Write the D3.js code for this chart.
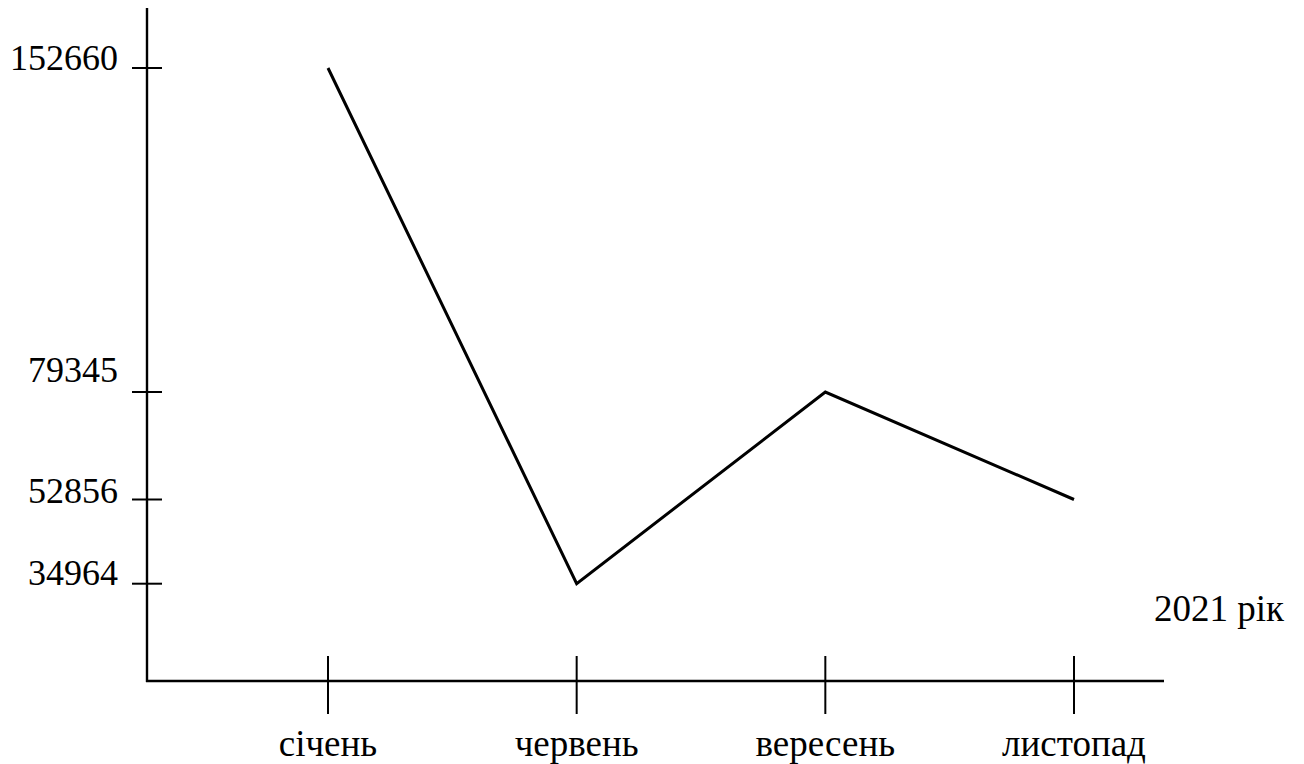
<!DOCTYPE html>
<html>
<head>
<meta charset="utf-8">
<script src="https://cdn.jsdelivr.net/npm/d3@7/dist/d3.min.js"></script>
<style>
  html, body { margin: 0; padding: 0; background: #fff; }
  svg { display: block; }
  text { font-family: "Liberation Serif", "Times New Roman", serif; fill: #000; }
</style>
</head>
<body>
<svg id="chart" width="1304" height="764"></svg>
<script>
// Data
const months = ["січень", "червень", "вересень", "листопад"];
const values = [152660, 34964, 79345, 52856];
const yTickValues = [152660, 79345, 52856, 34964];
const xTitle = "2021 рік";

// Style: baseline offsets for y tick labels (relative to tick)
const yLabelDy = [2, -10, 3, 1];

const svg = d3.select("#chart");

const x = d3.scalePoint().domain(months).range([328, 1074]);
// Hand-spaced value axis as in the original (polylinear)
const y = d3.scaleLinear()
  .domain([34964, 52856, 79345, 152660])
  .range([583.7, 499.5, 392, 68]);

const axisX = 147, axisY = 681;

// Axes lines
svg.append("line")
  .attr("x1", axisX).attr("x2", axisX)
  .attr("y1", 8).attr("y2", axisY + 1)
  .attr("stroke", "#000").attr("stroke-width", 2.4);
svg.append("line")
  .attr("x1", axisX - 1).attr("x2", 1164)
  .attr("y1", axisY).attr("y2", axisY)
  .attr("stroke", "#000").attr("stroke-width", 2.4);

// Y ticks
const yt = svg.append("g");
yt.selectAll("line").data(yTickValues).join("line")
  .attr("x1", 132).attr("x2", 162)
  .attr("y1", d => y(d)).attr("y2", d => y(d))
  .attr("stroke", "#000").attr("stroke-width", 2);
yt.selectAll("text").data(yTickValues).join("text")
  .attr("x", 118)
  .attr("y", (d, i) => y(d) + yLabelDy[i])
  .attr("text-anchor", "end")
  .attr("font-size", 36)
  .text(d => d);

// X ticks
const xt = svg.append("g");
xt.selectAll("line").data(months).join("line")
  .attr("x1", d => x(d)).attr("x2", d => x(d))
  .attr("y1", 656).attr("y2", 714)
  .attr("stroke", "#000").attr("stroke-width", 2);
xt.selectAll("text").data(months).join("text")
  .attr("x", d => x(d))
  .attr("y", 756)
  .attr("text-anchor", "middle")
  .attr("font-size", 37)
  .text(d => d);

// Axis title
svg.append("text")
  .attr("x", 1284).attr("y", 621)
  .attr("text-anchor", "end")
  .attr("font-size", 37)
  .text(xTitle);

// Data line
const line = d3.line()
  .x((d, i) => x(months[i]))
  .y(d => y(d));
svg.append("path")
  .datum(values)
  .attr("d", line)
  .attr("fill", "none")
  .attr("stroke", "#000")
  .attr("stroke-width", 3)
  .attr("stroke-linejoin", "miter");
</script>
</body>
</html>
